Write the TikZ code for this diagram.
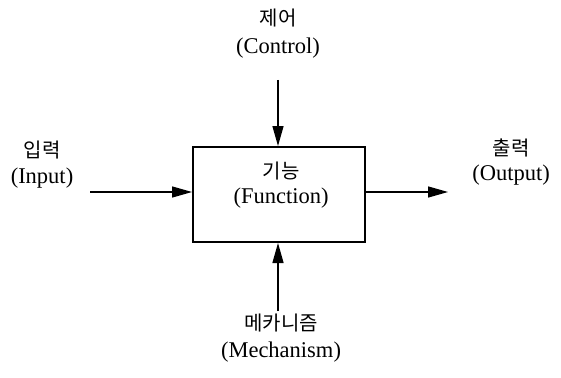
\documentclass[tikz,border=0pt]{standalone}
\usepackage{fontspec}
\setmainfont{Liberation Serif}
\newfontfamily\kr{Noto Sans CJK KR}
\usetikzlibrary{arrows.meta}
\begin{document}
\begin{tikzpicture}[x=1pt,y=-1pt,
  lbl/.style={inner sep=0pt,font=\fontsize{22.5}{26}\selectfont},
  klbl/.style={inner sep=0pt,font=\kr\fontsize{20}{24}\selectfont},
  arr/.style={line width=1.4pt,-{Triangle[length=20pt,width=11pt]}},
  fbox/.style={draw,line width=2pt,minimum width=172pt,minimum height=95pt,inner sep=0pt}]
\useasboundingbox (0,0) rectangle (561,377);
\node[fbox] (box) at (279,194.5) {};
\node[klbl] (fk) at (281,171) {기능};
\node[lbl] (fe) at (281,198) {(Function)};
\node[klbl] (ck) at (278,18) {제어};
\node[lbl] (ce) at (278,48) {(Control)};
\node[klbl] (ik) at (42,150) {입력};
\node[lbl] (ie) at (42,178) {(Input)};
\node[klbl] (ok) at (511,148) {출력};
\node[lbl] (oe) at (511,175) {(Output)};
\node[klbl] (mk) at (281,323) {메카니즘};
\node[lbl] (me) at (281,352) {(Mechanism)};
\coordinate (ctop) at (278,80);
\coordinate (mbot) at (278,311);
\coordinate (iin) at (90,192);
\coordinate (oout) at (448,192);
\draw[arr] (ctop) -- (ctop |- box.north);
\draw[arr] (mbot) -- (mbot |- box.south);
\draw[arr] (iin) -- (iin -| box.west);
\draw[arr] (oout -| box.east) -- (oout);
\end{tikzpicture}
\end{document}
